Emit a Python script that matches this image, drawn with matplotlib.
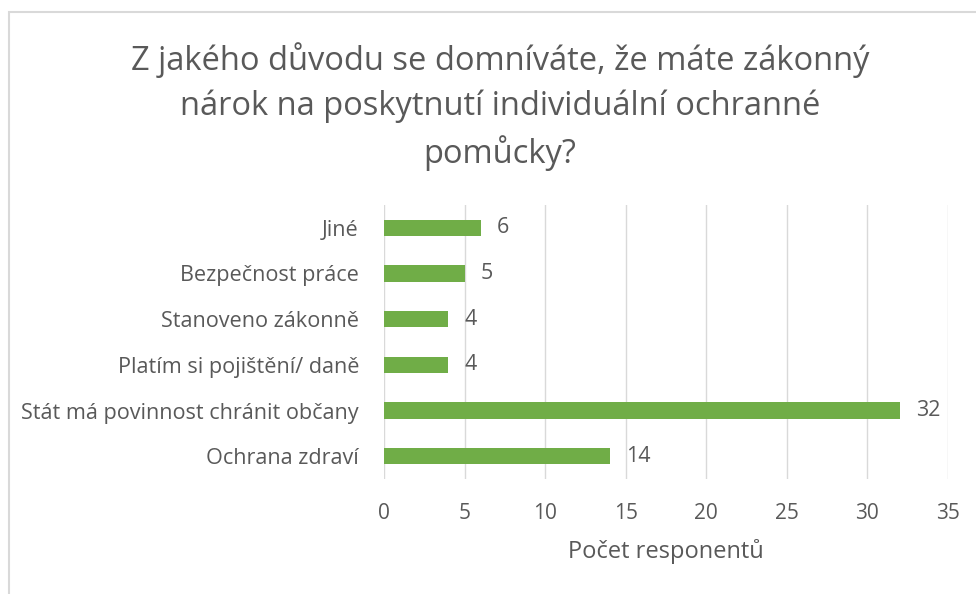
import matplotlib.pyplot as plt
from matplotlib.patches import Rectangle

# ---------------------------------------------------------
# Data (bottom to top as drawn)
# ---------------------------------------------------------
categories = [
    "Ochrana zdraví",
    "Stát má povinnost chránit občany",
    "Platím si pojištění/ daně",
    "Stanoveno zákonně",
    "Bezpečnost práce",
    "Jiné",
]
counts = [14, 32, 4, 4, 5, 6]
x_ticks = [0, 5, 10, 15, 20, 25, 30, 35]

title = "Z jakého důvodu se domníváte, že máte zákonný\nnárok na poskytnutí individuální ochranné\npomůcky?"
x_label = "Počet responentů"

text_color = "#595959"
bar_color = "#70AD47"
grid_color = "#D9D9D9"

plt.rcParams["font.family"] = ["Open Sans", "DejaVu Sans"]

W, H = 976, 594
fig = plt.figure(figsize=(W / 100, H / 100), dpi=100)

# Chart frame (cropped on right and bottom)
fig.patches.append(Rectangle((9 / W, -0.1), 1.2, 1.1 - 12 / H,
                             transform=fig.transFigure, fill=False,
                             edgecolor="#D9D9D9", linewidth=1.5))

# Axes placed in pixel coordinates of the reference
left, right, top, bottom = 384, 948, 205, 479
ax = fig.add_axes([left / W, 1 - bottom / H, (right - left) / W, (bottom - top) / H])

ypos = range(len(categories))
ax.barh(ypos, counts, height=0.36, color=bar_color, zorder=3)

for y, v in zip(ypos, counts):
    ax.text(v + 1.0, y, str(v), va="center", ha="left",
            fontsize=15.5, color=text_color)

ax.set_xlim(0, 35)
ax.set_ylim(-0.5, len(categories) - 0.5)
ax.set_xticks(x_ticks)
ax.set_yticks(list(ypos))
ax.set_yticklabels(categories)
ax.tick_params(axis="both", length=0, labelsize=15, colors=text_color)
ax.tick_params(axis="y", pad=18, labelsize=15.6)
ax.tick_params(axis="x", pad=17)

ax.grid(axis="x", color=grid_color, linewidth=1, zorder=0)
for s in ax.spines.values():
    s.set_visible(False)

ax.set_xlabel(x_label, fontsize=17, color=text_color, labelpad=11)

fig.text(500 / W, 1 - 42 / H, title, ha="center", va="top",
         fontsize=23.5, color=text_color, linespacing=1.45)

fig.savefig("out.png", dpi=100, facecolor="white")
